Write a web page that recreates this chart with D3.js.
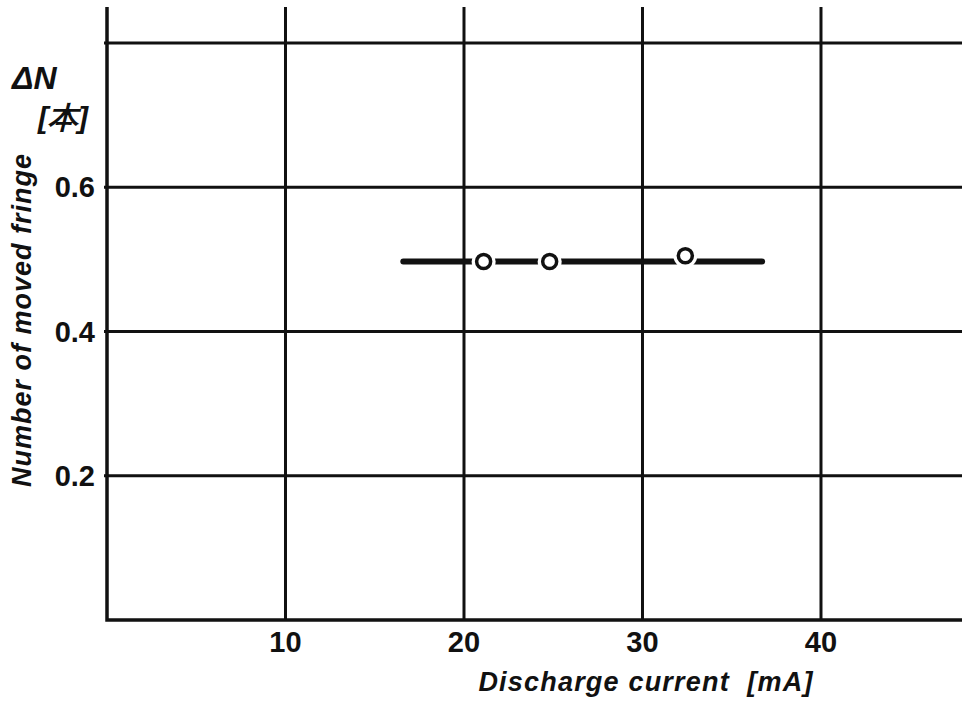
<!DOCTYPE html>
<html>
<head>
<meta charset="utf-8">
<script src="https://cdn.jsdelivr.net/npm/d3@7"></script>
<style>
  body { margin: 0; background: #fff; }
  text { font-family: "Liberation Sans", "DejaVu Sans", sans-serif; fill: #111; white-space: pre; }
</style>
</head>
<body>
<div id="chart"></div>
<script>
// data
var currentTicks = [10, 20, 30, 40];
var fringeTicks = [0.2, 0.4, 0.6, 0.8];
var fringeTickLabels = ["0.2", "0.4", "0.6", ""];
var pointCurrent = [21.1, 24.8, 32.4];
var pointFringe = [0.497, 0.497, 0.505];
var meanCurrent = [16.6, 36.7];
var meanFringe = [0.497, 0.497];

var width = 962, height = 701;

var svg = d3.select("#chart")
  .append("svg")
    .attr("width", width)
    .attr("height", height);

var x = d3.scaleLinear()
  .domain([0, 47.9])
  .range([107, 962]);
var y = d3.scaleLinear()
  .domain([0, 0.8])
  .range([620, 43]);

var ink = "#111";

// vertical grid lines
svg.append("g")
  .selectAll("line")
  .data(currentTicks)
  .enter()
  .append("line")
    .attr("x1", function(d) { return x(d) })
    .attr("x2", function(d) { return x(d) })
    .attr("y1", 7)
    .attr("y2", y(0))
    .attr("stroke", ink)
    .attr("stroke-width", 3);

// horizontal grid lines
svg.append("g")
  .selectAll("line")
  .data(fringeTicks)
  .enter()
  .append("line")
    .attr("x1", x(0) - 3)
    .attr("x2", width)
    .attr("y1", function(d) { return y(d) })
    .attr("y2", function(d) { return y(d) })
    .attr("stroke", ink)
    .attr("stroke-width", 3);

// axes frame (left + bottom)
svg.append("path")
  .attr("d", "M" + x(0) + ",7V" + y(0) + "H" + width)
  .attr("fill", "none")
  .attr("stroke", ink)
  .attr("stroke-width", 3.5);

// tick labels
svg.append("g")
  .selectAll("text")
  .data(currentTicks)
  .enter()
  .append("text")
    .attr("x", function(d) { return x(d) })
    .attr("y", 652)
    .attr("text-anchor", "middle")
    .attr("font-size", 29)
    .attr("font-weight", "bold")
    .text(function(d) { return d });

svg.append("g")
  .selectAll("text")
  .data(fringeTicks)
  .enter()
  .append("text")
    .attr("x", 95)
    .attr("y", function(d) { return y(d) + 10 })
    .attr("text-anchor", "end")
    .attr("font-size", 29)
    .attr("font-weight", "bold")
    .text(function(d, i) { return fringeTickLabels[i] });

// axis titles
svg.append("text")
  .attr("x", 646)
  .attr("y", 691)
  .attr("text-anchor", "middle")
  .attr("font-size", 27)
  .attr("font-weight", "bold")
  .attr("font-style", "italic")
  .attr("letter-spacing", 1.2)
  .text("Discharge current  [mA]");

svg.append("text")
  .attr("transform", "translate(31,320) rotate(-90)")
  .attr("text-anchor", "middle")
  .attr("font-size", 27)
  .attr("font-weight", "bold")
  .attr("font-style", "italic")
  .attr("letter-spacing", 1)
  .text("Number of moved fringe");

svg.append("text")
  .attr("x", 12)
  .attr("y", 89)
  .attr("font-size", 32)
  .attr("font-style", "italic")
  .attr("font-weight", "bold")
  .text("\u0394N");

svg.append("text")
  .attr("x", 38)
  .attr("y", 128)
  .attr("font-size", 30)
  .attr("font-style", "italic")
  .attr("font-weight", "bold")
  .text("[本]");

// mean line
svg.append("path")
  .datum(d3.zip(meanCurrent, meanFringe))
  .attr("fill", "none")
  .attr("stroke", ink)
  .attr("stroke-width", 6)
  .attr("stroke-linecap", "round")
  .attr("d", d3.line()
    .x(function(d) { return x(d[0]) })
    .y(function(d) { return y(d[1]) }));

var pts = d3.zip(pointCurrent, pointFringe);

// white gap round each point
svg.append("g")
  .selectAll("circle")
  .data(pts)
  .enter()
  .append("circle")
    .attr("cx", function(d) { return x(d[0]) })
    .attr("cy", function(d) { return y(d[1]) })
    .attr("r", 12)
    .attr("fill", "#fff");

// the points
svg.append("g")
  .selectAll("circle")
  .data(pts)
  .enter()
  .append("circle")
    .attr("cx", function(d) { return x(d[0]) })
    .attr("cy", function(d) { return y(d[1]) })
    .attr("r", 7)
    .attr("fill", "#fff")
    .attr("stroke", ink)
    .attr("stroke-width", 3.5);
</script>
</body>
</html>
